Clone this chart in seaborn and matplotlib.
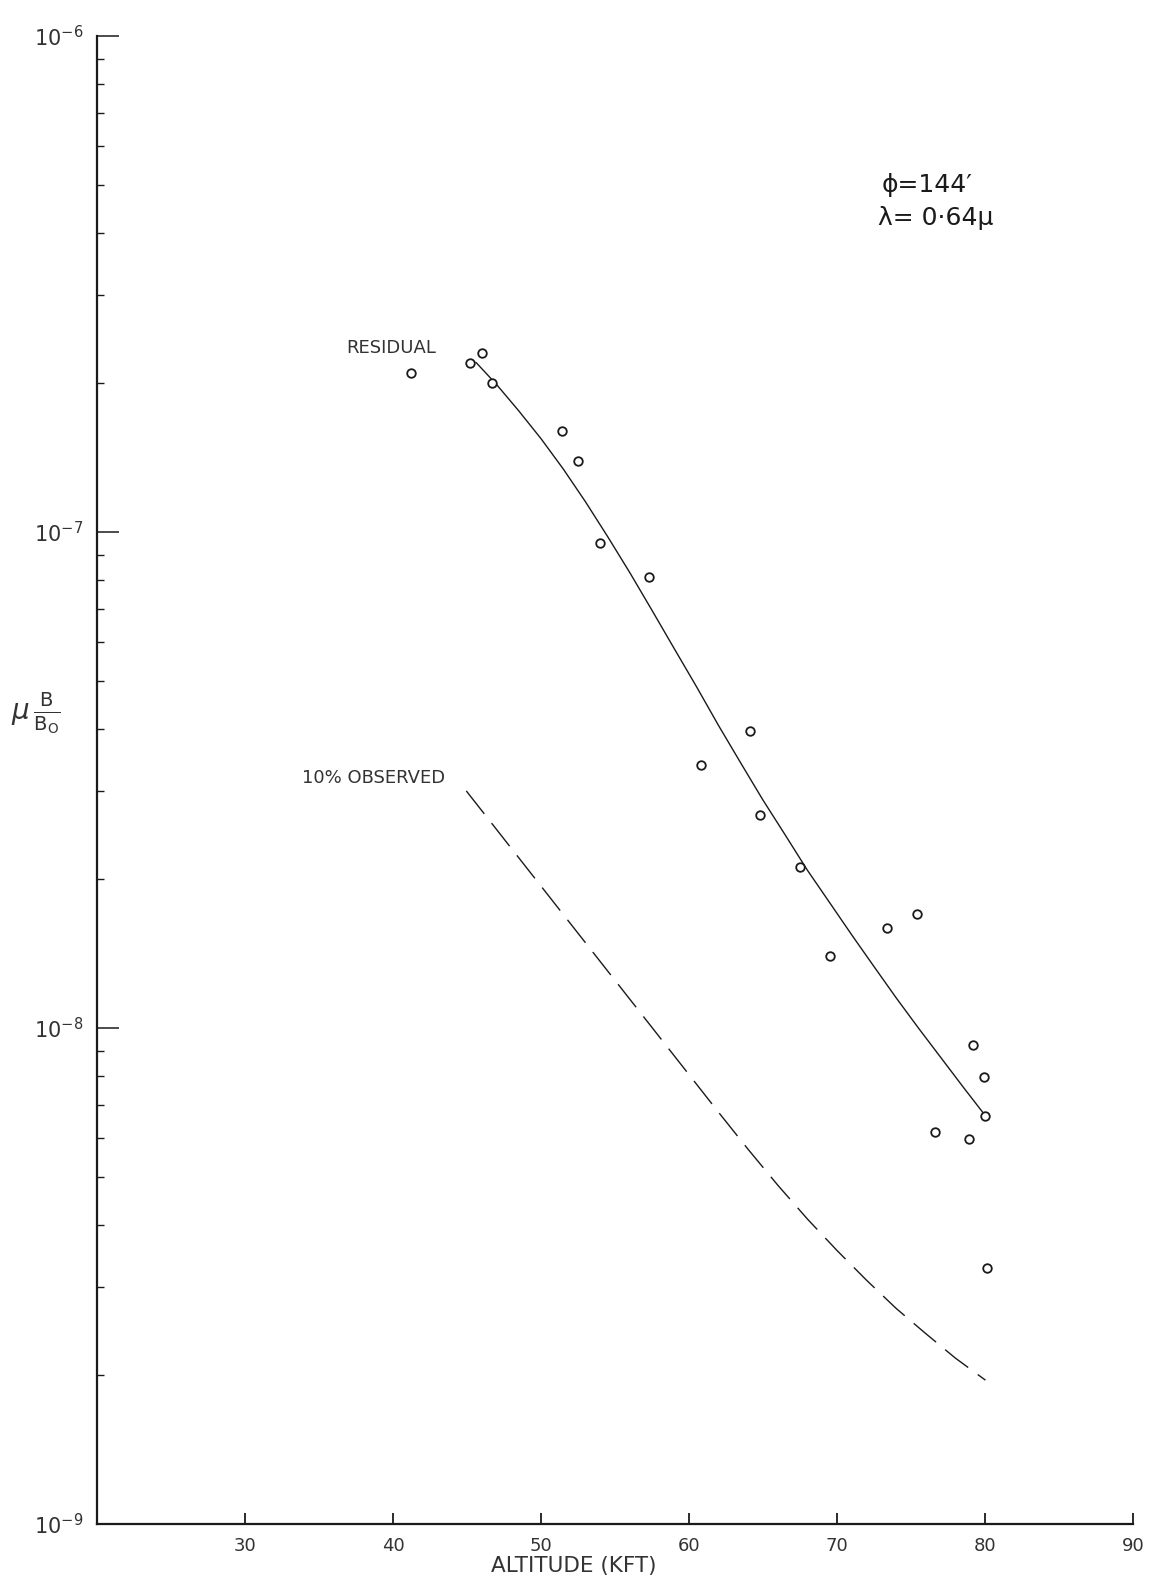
import numpy as np
import pandas as pd
import matplotlib
matplotlib.use("Agg")
import matplotlib.pyplot as plt
from matplotlib.ticker import LogLocator, NullFormatter, FixedLocator
import seaborn as sns

# Measured residual brightness ratio vs altitude
altitude_kft = [41.2, 45.2, 46.0, 46.7, 51.4, 52.5, 54.0, 57.3, 60.8, 64.1, 64.8,
                67.5, 69.5, 73.4, 75.4, 76.6, 78.9, 79.2, 79.95, 80.0, 80.15]
ratio = [2.09e-7, 2.19e-7, 2.29e-7, 2.00e-7, 1.60e-7, 1.39e-7, 9.48e-8, 8.13e-8,
         3.39e-8, 3.97e-8, 2.69e-8, 2.11e-8, 1.40e-8, 1.59e-8, 1.70e-8, 6.17e-9,
         5.96e-9, 9.25e-9, 7.96e-9, 6.66e-9, 3.28e-9]

# Smooth curve drawn through the residual points
residual_alt = [45.6, 47.0, 48.5, 50.0, 51.5, 53.0, 54.5, 56.0, 57.5, 59.0, 60.5,
                62.0, 63.5, 65.0, 66.5, 68.0, 69.5, 71.0, 72.5, 74.0, 75.5, 77.0,
                78.5, 80.0]
residual_val = [2.198e-7, 1.982e-7, 1.754e-7, 1.542e-7, 1.340e-7, 1.151e-7,
                9.79e-8, 8.28e-8, 6.95e-8, 5.82e-8, 4.88e-8, 4.07e-8, 3.42e-8,
                2.88e-8, 2.45e-8, 2.08e-8, 1.79e-8, 1.54e-8, 1.33e-8, 1.15e-8,
                1.00e-8, 8.73e-9, 7.62e-9, 6.67e-9]

# 10% of the observed brightness
observed_alt = [44.95, 47.0, 50.0, 53.0, 56.0, 59.0, 62.0, 64.0, 66.0, 68.0, 70.0,
                72.0, 74.0, 76.0, 78.0, 80.03]
observed_val = [3.006e-8, 2.512e-8, 1.932e-8, 1.486e-8, 1.143e-8, 8.79e-9,
                6.76e-9, 5.69e-9, 4.82e-9, 4.12e-9, 3.56e-9, 3.10e-9, 2.72e-9,
                2.42e-9, 2.16e-9, 1.95e-9]

x_ticks = [30, 40, 50, 60, 70, 80, 90]
y_ticks = [1e-9, 1e-8, 1e-7, 1e-6]
y_tick_labels = [r"$10^{-9}$", r"$10^{-8}$", r"$10^{-7}$", r"$10^{-6}$"]

sns.set_style("white")
plt.rcParams["font.family"] = ["DejaVu Sans"]
plt.rcParams["mathtext.fontset"] = "dejavusans"

ink = "#1a1a1a"
text_ink = "#333333"

fig = plt.figure(figsize=(11.58, 15.77), dpi=100)
ax = fig.add_axes([0.0838, 0.0336, 0.8946, 0.9436])

pts = pd.DataFrame({"alt": altitude_kft, "val": ratio})
res = pd.DataFrame({"alt": residual_alt, "val": residual_val})
obs = pd.DataFrame({"alt": observed_alt, "val": observed_val})

sns.lineplot(data=res, x="alt", y="val", sort=False, estimator=None,
             color=ink, linewidth=1.0, ax=ax)
sns.lineplot(data=obs, x="alt", y="val", sort=False, estimator=None,
             color=ink, linewidth=1.0, ax=ax)
ax.lines[-1].set_dashes((21, 8.5))
sns.scatterplot(data=pts, x="alt", y="val", marker="o", s=38,
                facecolor="white", edgecolor=ink, linewidth=1.3, ax=ax, zorder=5)

ax.set_yscale("log")
ax.set_xlim(20, 90)
ax.set_ylim(1e-9, 1e-6)

for side in ("top", "right"):
    ax.spines[side].set_visible(False)
for side in ("left", "bottom"):
    ax.spines[side].set_color(ink)
    ax.spines[side].set_linewidth(1.6)

ax.xaxis.set_major_locator(FixedLocator(x_ticks))
ax.set_xticklabels([str(t) for t in x_ticks])
ax.yaxis.set_major_locator(FixedLocator(y_ticks))
ax.set_yticklabels(y_tick_labels)
ax.yaxis.set_minor_locator(LogLocator(base=10, subs=np.arange(2, 10)))
ax.yaxis.set_minor_formatter(NullFormatter())

ax.tick_params(axis="x", which="major", direction="in", length=8, width=1.3,
               color=ink, labelsize=13, labelcolor=text_ink, pad=9, bottom=True)
ax.tick_params(axis="y", which="major", direction="in", length=16, width=1.1,
               color=ink, labelsize=15, labelcolor=text_ink, pad=10, left=True)
ax.tick_params(axis="y", which="minor", direction="in", length=5, width=1.0,
               color=ink, left=True)

ax.set_xlabel("ALTITUDE (KFT)", fontsize=15.5, color=text_ink)
ax.xaxis.set_label_coords(0.46, -0.0215)
ax.set_ylabel("")

fig.text(0.031, 0.548, r"$\mu\,\frac{\mathrm{B}}{\mathrm{B}_{\mathrm{O}}}$",
         fontsize=20, color=text_ink, ha="center", va="center")

ax.text(36.86, 2.30e-7, "RESIDUAL", fontsize=13, color=text_ink,
        ha="left", va="baseline")
ax.text(33.82, 3.12e-8, "10% OBSERVED", fontsize=13, color=text_ink,
        ha="left", va="baseline")
ax.text(73.0, 4.85e-7, "ϕ=144′", fontsize=18, color=ink,
        ha="left", va="baseline")
ax.text(72.74, 4.16e-7, "λ= 0·64μ", fontsize=18, color=ink,
        ha="left", va="baseline")

fig.savefig("out.png", dpi=100, facecolor="white")
